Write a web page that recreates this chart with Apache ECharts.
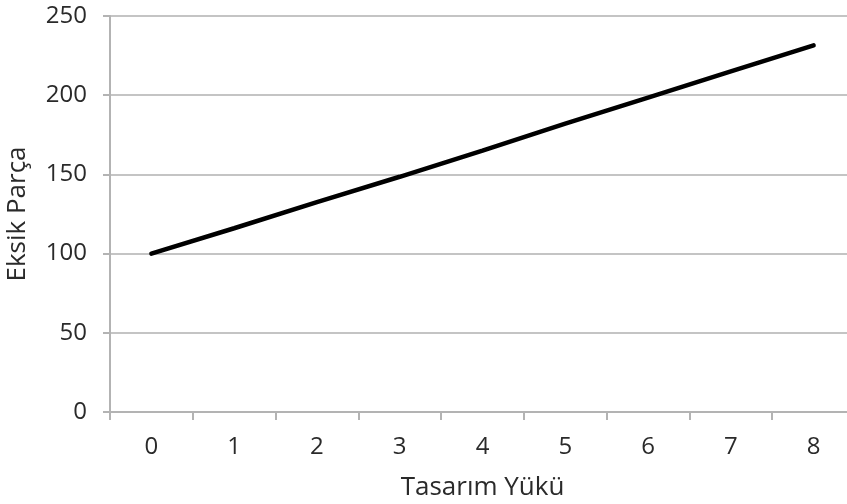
<!DOCTYPE html>
<html>
<head>
<meta charset="utf-8">
<script src="https://cdn.jsdelivr.net/npm/echarts@6/dist/echarts.min.js"></script>
<style>html,body{margin:0;padding:0;background:#fff;}#c{width:847px;height:504px;}</style>
</head>
<body>
<div id="c"></div>
<script>
const categories = ['0','1','2','3','4','5','6','7','8'];
const eksikParca = [100, 116, 132.5, 148.5, 165, 182, 198.5, 215, 231.5];
const yTicks = {min: 0, max: 250, interval: 50};

const font = 'Open Sans';
const chart = echarts.init(document.getElementById('c'), null, {renderer: 'canvas'});
chart.setOption({
  animation: false,
  backgroundColor: '#fff',
  grid: {left: 110, top: 16, right: -8, bottom: 92, containLabel: false, outerBoundsMode: 'none'},
  xAxis: {
    type: 'category',
    data: categories,
    boundaryGap: true,
    name: 'Tasarım Yükü',
    nameLocation: 'middle',
    nameGap: 63,
    nameTextStyle: {fontFamily: font, fontSize: 26, color: '#2a2a2a'},
    axisLine: {lineStyle: {color: '#b3b3b3', width: 2}},
    axisTick: {show: true, length: 8, interval: 0, lineStyle: {color: '#b3b3b3', width: 2}},
    axisLabel: {margin: 23, fontFamily: font, fontSize: 24, color: '#2a2a2a'},
    splitLine: {show: false}
  },
  yAxis: {
    type: 'value',
    min: yTicks.min, max: yTicks.max, interval: yTicks.interval,
    name: 'Eksik Parça',
    nameLocation: 'middle',
    nameRotate: 90,
    nameGap: 79,
    nameTextStyle: {fontFamily: font, fontSize: 26, color: '#2a2a2a'},
    axisLine: {show: true, lineStyle: {color: '#b3b3b3', width: 2}},
    axisTick: {show: true, length: 7, lineStyle: {color: '#b3b3b3', width: 2}},
    axisLabel: {margin: 23, fontFamily: font, fontSize: 24, color: '#2a2a2a'},
    splitLine: {show: true, lineStyle: {color: '#c4c4c4', width: 2}}
  },
  series: [{
    type: 'line',
    data: eksikParca,
    showSymbol: false,
    symbol: 'none',
    lineStyle: {color: '#000', width: 4.5, cap: 'round'},
    z: 5
  }]
});
</script>
</body>
</html>
